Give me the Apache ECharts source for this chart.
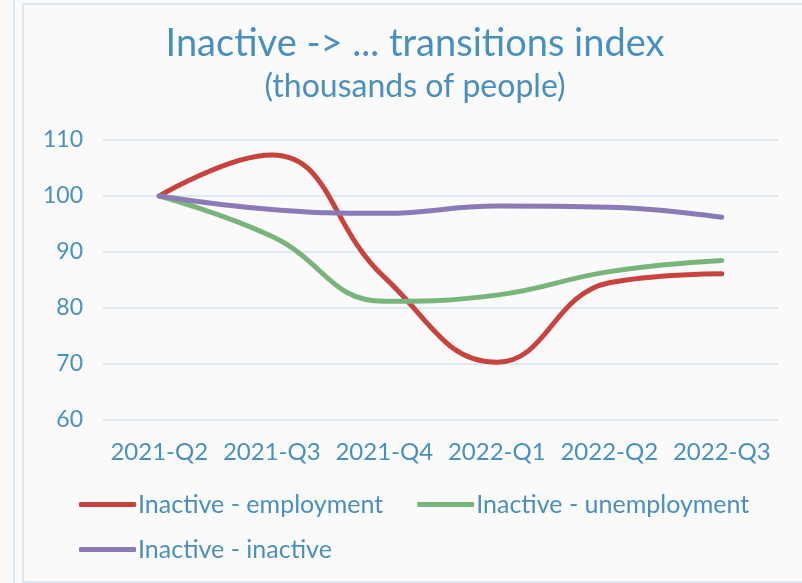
<!DOCTYPE html>
<html>
<head>
<meta charset="utf-8">
<script src="https://cdn.jsdelivr.net/npm/echarts@6/dist/echarts.min.js"></script>
<style>
  html, body { margin: 0; padding: 0; background: #fafafa; }
  body { width: 802px; height: 583px; position: relative; overflow: hidden; }
  #side { position: absolute; left: 13px; top: 0; width: 2px; height: 583px; background: #d9e8f2; }
  #box { position: absolute; left: 22px; top: 3px; width: 800px; height: 576px;
         border-left: 2px solid #d9e8f2; border-top: 2px solid #d9e8f2; border-bottom: 2px solid #d9e8f2; }
  #chart { position: absolute; left: 0; top: 0; width: 802px; height: 583px; }
</style>
</head>
<body>
<div id="side"></div>
<div id="box"></div>
<div id="chart"></div>
<script>
// Quarters on the x axis
const categories = ['2021-Q2', '2021-Q3', '2021-Q4', '2022-Q1', '2022-Q2', '2022-Q3'];

// Index values (2021-Q2 = 100)
const employment   = [100, 107.3, 85.5, 70.3, 84.5, 86.1];
const unemployment = [100, 92.8, 81.2, 82.3, 86.5, 88.5];
const inactive     = [100, 97.6, 96.9, 98.2, 98.0, 96.2];

const yTicks = [60, 70, 80, 90, 100, 110];

const TEXT = '#4a8fbd';
const FONT = 'Lato';

const chart = echarts.init(document.getElementById('chart'));

function lineSeries(name, data, color) {
    return {
        name: name,
        type: 'line',
        data: data,
        smooth: 0.45,
        showSymbol: false,
        lineStyle: { color: color, width: 5, cap: 'round' },
        itemStyle: { color: color }
    };
}

const legendText = { color: TEXT, fontSize: 25, fontFamily: FONT, padding: [0, 0, 0, -3] };

chart.setOption({
    backgroundColor: 'transparent',
    title: [
        {
            text: 'Inactive -> ... transitions index',
            left: 415, textAlign: 'center', top: 25, padding: 0,
            textStyle: { color: TEXT, fontSize: 38, fontWeight: 'normal', fontFamily: FONT }
        },
        {
            text: '(thousands of people)',
            left: 415, textAlign: 'center', top: 71, padding: 0,
            textStyle: { color: TEXT, fontSize: 32, fontWeight: 'normal', fontFamily: FONT }
        }
    ],
    legend: [
        {
            data: ['Inactive - employment', 'Inactive - unemployment'],
            left: 74, top: 487,
            icon: 'roundRect', itemWidth: 57, itemHeight: 5, itemGap: 34,
            textStyle: legendText
        },
        {
            data: ['Inactive - inactive'],
            left: 74, top: 532,
            icon: 'roundRect', itemWidth: 57, itemHeight: 5,
            textStyle: legendText
        }
    ],
    grid: { left: 103, right: 24, top: 140, bottom: 163 },
    xAxis: {
        type: 'category',
        data: categories,
        boundaryGap: true,
        axisLine: { show: false },
        axisTick: { show: false },
        axisLabel: { interval: 0, hideOverlap: false, color: TEXT, fontSize: 24, fontFamily: FONT, margin: 20 }
    },
    yAxis: {
        type: 'value',
        min: yTicks[0],
        max: yTicks[yTicks.length - 1],
        interval: 10,
        axisLine: { show: false },
        axisTick: { show: false },
        axisLabel: { color: TEXT, fontSize: 23, fontFamily: FONT, margin: 20 },
        splitLine: { lineStyle: { color: '#dce9f3', width: 2 } }
    },
    series: [
        lineSeries('Inactive - employment', employment, '#c9433e'),
        lineSeries('Inactive - unemployment', unemployment, '#79b47b'),
        lineSeries('Inactive - inactive', inactive, '#8a7bb6')
    ]
});
</script>
</body>
</html>
